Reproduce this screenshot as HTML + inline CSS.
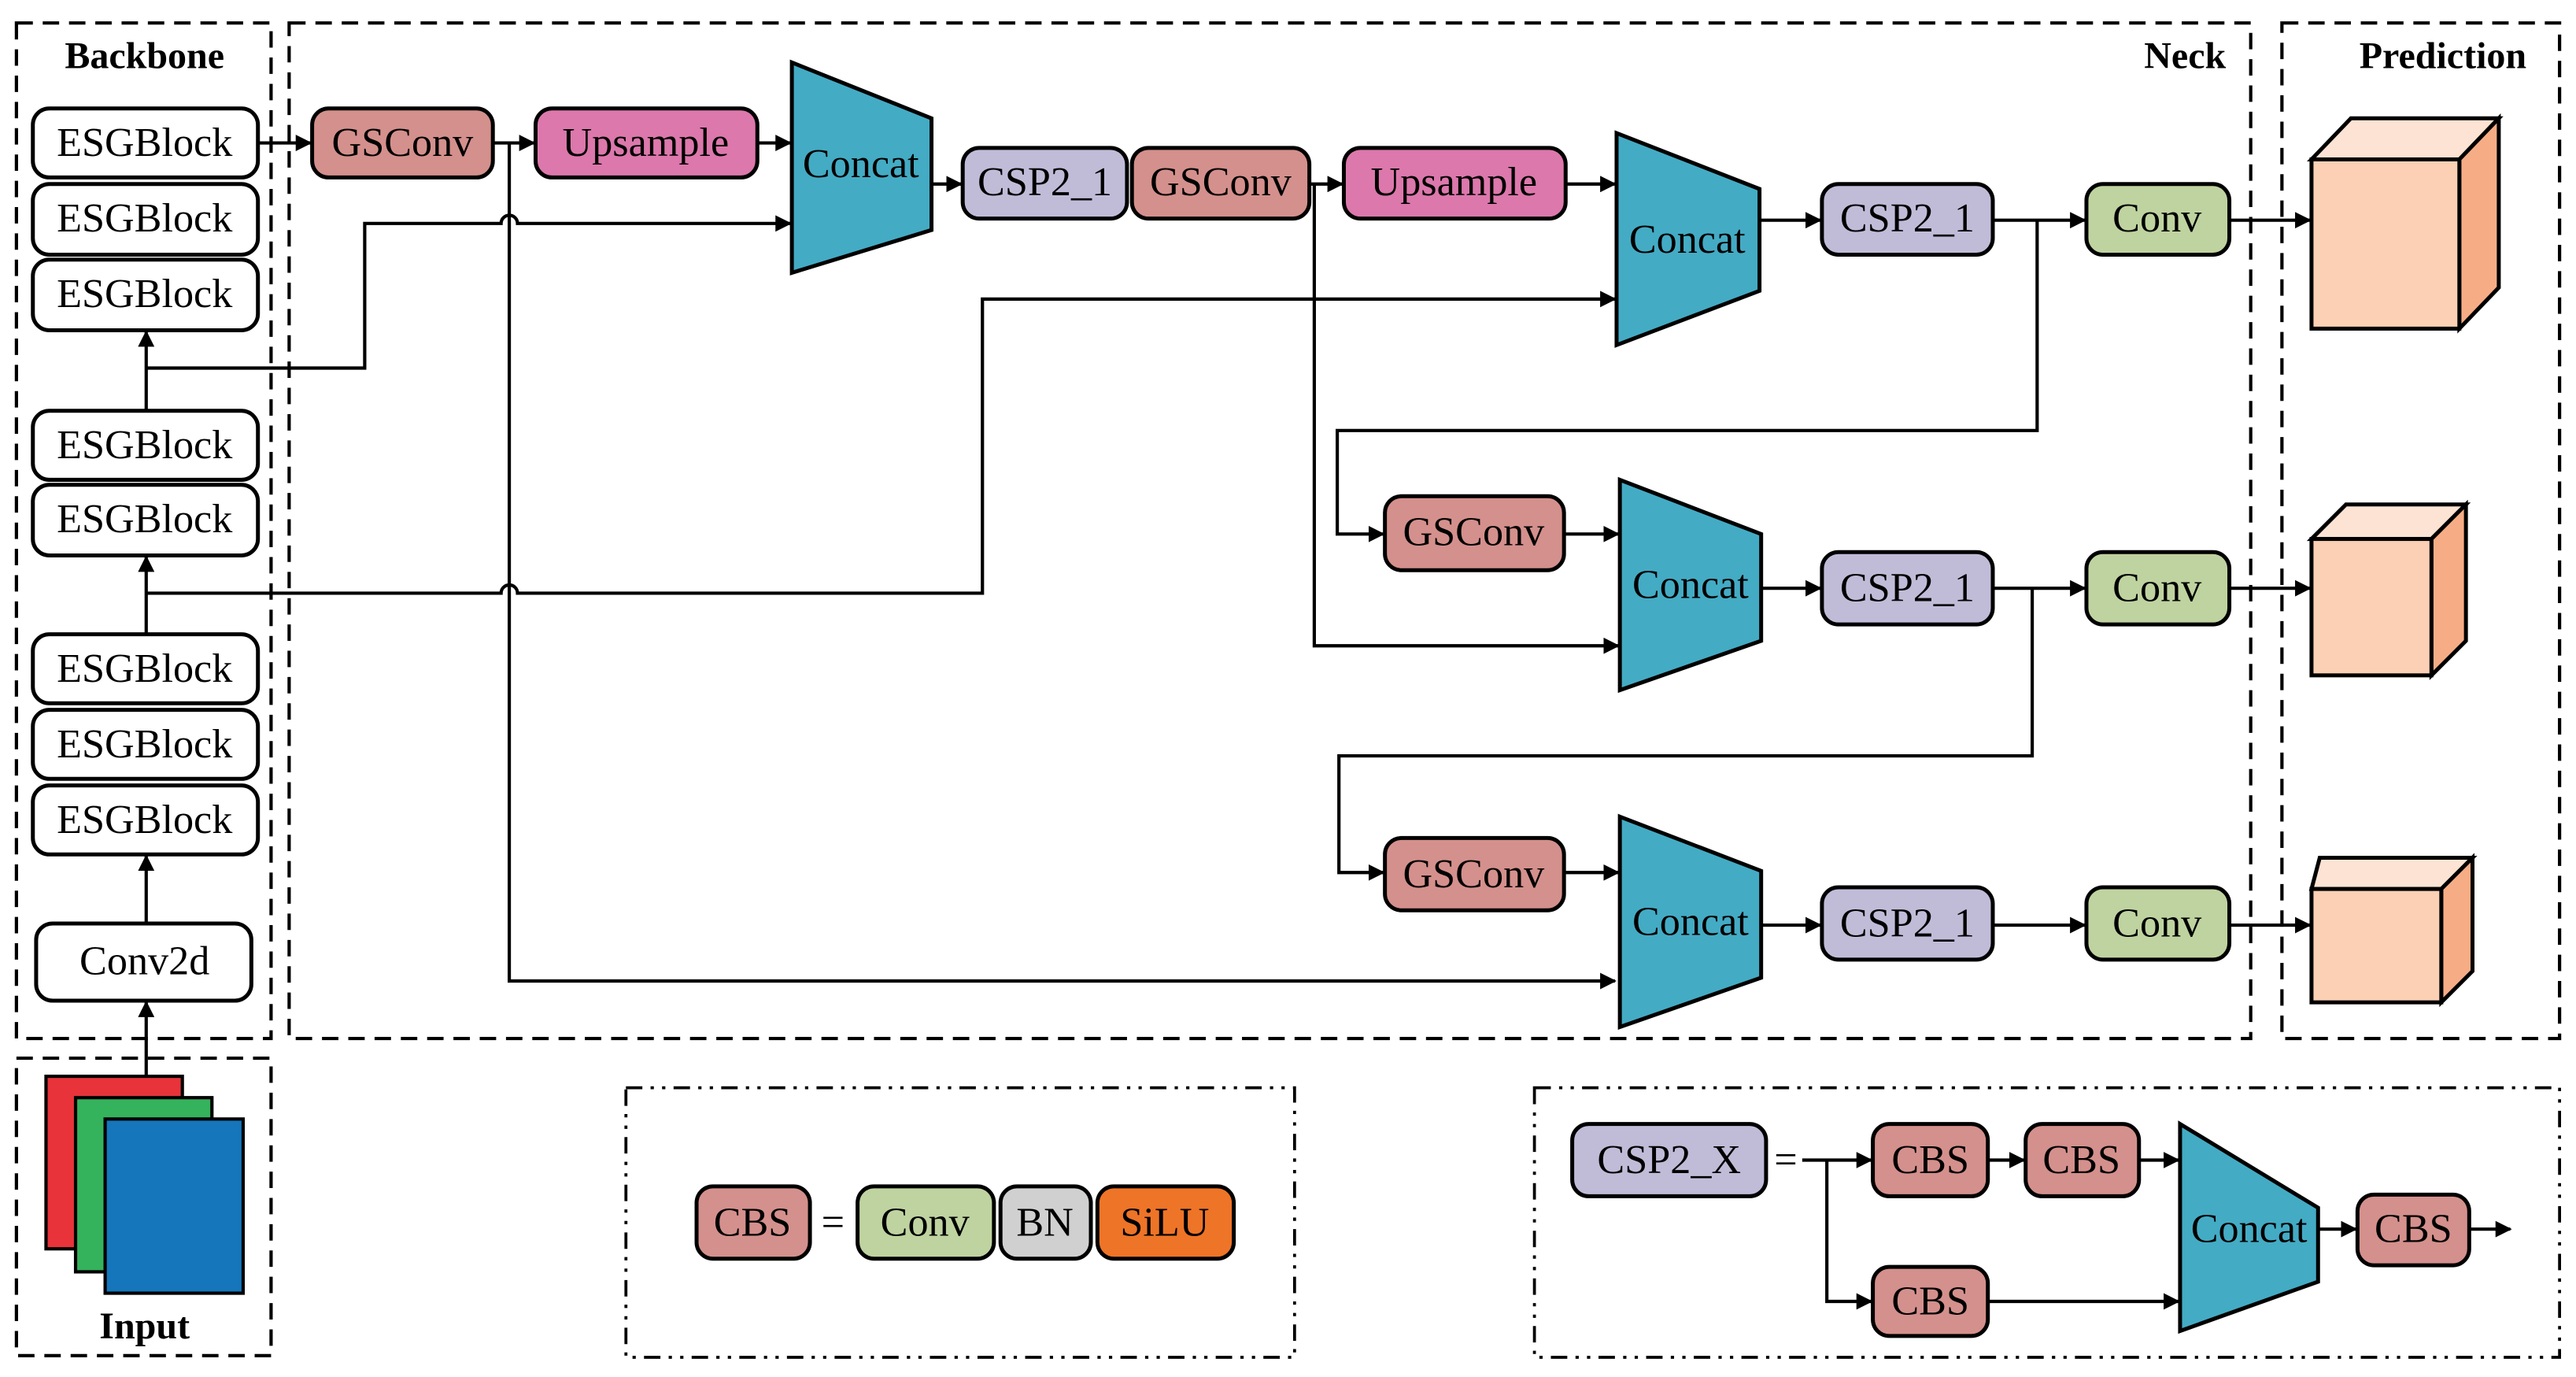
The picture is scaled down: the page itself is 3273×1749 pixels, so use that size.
<!DOCTYPE html>
<html><head><meta charset="utf-8"><style>
html,body{margin:0;padding:0;background:#fff;}
svg{display:block;}
text{font-family:"Liberation Serif",serif;font-size:25px;text-anchor:middle;dominant-baseline:central;fill:#000;}
.b{font-weight:bold;font-size:23px;}
.n{stroke:#000;stroke-width:2.4;}
.l{fill:none;stroke:#000;stroke-width:2;}
.dash{fill:none;stroke:#000;stroke-width:2;stroke-dasharray:10,6;}
.dd{fill:none;stroke:#000;stroke-width:1.8;stroke-dasharray:10,5,2,5,2,5;}
</style></head><body>
<svg width="3273" height="1749" viewBox="0 0 1568 838" preserveAspectRatio="none" xmlns="http://www.w3.org/2000/svg">
<defs><marker id="a" markerWidth="10" markerHeight="10" refX="9" refY="5" orient="auto" markerUnits="userSpaceOnUse"><path d="M0,0 L10,5 L0,10 z" fill="#000"/></marker></defs>

<rect class="dash" x="10" y="14" width="155" height="618"/>
<rect class="dash" x="176" y="14" width="1194" height="618"/>
<rect class="dash" x="1389" y="14" width="169" height="618"/>
<rect class="dash" x="10" y="644" width="155" height="181"/>
<rect class="dd" x="381" y="662" width="407" height="164"/>
<rect class="dd" x="934" y="662" width="624" height="164"/>
<text class="b" x="88" y="34">Backbone</text>
<text class="b" x="1330" y="34">Neck</text>
<text class="b" x="1487" y="34">Prediction</text>

<g fill="#fff">
<rect class="n" x="20" y="66" width="137" height="42" rx="10"/>
<rect class="n" x="20" y="112" width="137" height="43" rx="10"/>
<rect class="n" x="20" y="158" width="137" height="43" rx="10"/>
<rect class="n" x="20" y="250" width="137" height="42" rx="10"/>
<rect class="n" x="20" y="295" width="137" height="43" rx="10"/>
<rect class="n" x="20" y="386" width="137" height="42" rx="10"/>
<rect class="n" x="20" y="432" width="137" height="42" rx="10"/>
<rect class="n" x="20" y="478" width="137" height="42" rx="10"/>
<rect class="n" x="22" y="562" width="131" height="47" rx="10"/>
</g>
<text x="88" y="87">ESGBlock</text><text x="88" y="133">ESGBlock</text><text x="88" y="179">ESGBlock</text>
<text x="88" y="271">ESGBlock</text><text x="88" y="316">ESGBlock</text>
<text x="88" y="407">ESGBlock</text><text x="88" y="453">ESGBlock</text><text x="88" y="499">ESGBlock</text>
<text x="88" y="585">Conv2d</text>

<rect x="28" y="655" width="83" height="105" fill="#e8333a" stroke="#000" stroke-width="2"/>
<rect x="46" y="668" width="83" height="106" fill="#35b25c" stroke="#000" stroke-width="2"/>
<rect x="64" y="681" width="84" height="106" fill="#1576bc" stroke="#000" stroke-width="2"/>
<text class="b" x="88" y="807">Input</text>

<line class="l" x1="89" y1="655" x2="89" y2="610" marker-end="url(#a)"/>
<line class="l" x1="89" y1="562" x2="89" y2="521" marker-end="url(#a)"/>
<line class="l" x1="89" y1="386" x2="89" y2="339" marker-end="url(#a)"/>
<line class="l" x1="89" y1="250" x2="89" y2="202" marker-end="url(#a)"/>

<rect class="n" x="190" y="66" width="110" height="42" rx="10" fill="#d4908c"/><text x="245" y="87">GSConv</text>
<rect class="n" x="326" y="66" width="135" height="42" rx="10" fill="#dc78ac"/><text x="393" y="87">Upsample</text>
<polygon class="n" points="482,38 567,72 567,140 482,166" fill="#44abc4"/><text x="524" y="100">Concat</text>
<rect class="n" x="586" y="90" width="100" height="43" rx="10" fill="#c0bcd8"/><text x="636" y="111">CSP2_1</text>
<rect class="n" x="689" y="90" width="108" height="43" rx="10" fill="#d4908c"/><text x="743" y="111">GSConv</text>
<rect class="n" x="818" y="90" width="135" height="43" rx="10" fill="#dc78ac"/><text x="885" y="111">Upsample</text>
<polygon class="n" points="984,81 1071,115 1071,177 984,210" fill="#44abc4"/><text x="1027" y="146">Concat</text>
<rect class="n" x="1109" y="112" width="104" height="43" rx="10" fill="#c0bcd8"/><text x="1161" y="133">CSP2_1</text>
<rect class="n" x="1270" y="112" width="87" height="43" rx="10" fill="#bfd3a0"/><text x="1313" y="133">Conv</text>

<rect class="n" x="843" y="302" width="109" height="45" rx="10" fill="#d4908c"/><text x="897" y="324">GSConv</text>
<polygon class="n" points="986,292 1072,325 1072,390 986,420" fill="#44abc4"/><text x="1029" y="356">Concat</text>
<rect class="n" x="1109" y="336" width="104" height="44" rx="10" fill="#c0bcd8"/><text x="1161" y="358">CSP2_1</text>
<rect class="n" x="1270" y="336" width="87" height="44" rx="10" fill="#bfd3a0"/><text x="1313" y="358">Conv</text>

<rect class="n" x="843" y="510" width="109" height="44" rx="10" fill="#d4908c"/><text x="897" y="532">GSConv</text>
<polygon class="n" points="986,497 1072,530 1072,595 986,625" fill="#44abc4"/><text x="1029" y="561">Concat</text>
<rect class="n" x="1109" y="540" width="104" height="44" rx="10" fill="#c0bcd8"/><text x="1161" y="562">CSP2_1</text>
<rect class="n" x="1270" y="540" width="87" height="44" rx="10" fill="#bfd3a0"/><text x="1313" y="562">Conv</text>

<g stroke="#000" stroke-width="2.4">
<polygon points="1407,97 1431,72 1521,72 1497,97" fill="#fde3d3"/>
<polygon points="1497,97 1521,72 1521,175 1497,200" fill="#f6ad85"/>
<rect x="1407" y="97" width="90" height="103" fill="#fbd0b4"/>
<polygon points="1407,328 1428,307 1501,307 1480,328" fill="#fde3d3"/>
<polygon points="1480,328 1501,307 1501,390 1480,411" fill="#f6ad85"/>
<rect x="1407" y="328" width="73" height="83" fill="#fbd0b4"/>
<polygon points="1407,541 1412,522 1505,522 1486,541" fill="#fde3d3"/>
<polygon points="1486,541 1505,522 1505,591 1486,610" fill="#f6ad85"/>
<rect x="1407" y="541" width="79" height="69" fill="#fbd0b4"/>
</g>

<line class="l" x1="157" y1="87" x2="189" y2="87" marker-end="url(#a)"/>
<line class="l" x1="300" y1="87" x2="325" y2="87" marker-end="url(#a)"/>
<line class="l" x1="461" y1="87" x2="481" y2="87" marker-end="url(#a)"/>
<line class="l" x1="567" y1="112" x2="585" y2="112" marker-end="url(#a)"/>
<line class="l" x1="797" y1="112" x2="817" y2="112" marker-end="url(#a)"/>
<line class="l" x1="953" y1="112" x2="983" y2="112" marker-end="url(#a)"/>
<line class="l" x1="1071" y1="134" x2="1108" y2="134" marker-end="url(#a)"/>
<line class="l" x1="1213" y1="134" x2="1269" y2="134" marker-end="url(#a)"/>
<line class="l" x1="1357" y1="134" x2="1406" y2="134" marker-end="url(#a)"/>
<line class="l" x1="1072" y1="358" x2="1108" y2="358" marker-end="url(#a)"/>
<line class="l" x1="1213" y1="358" x2="1269" y2="358" marker-end="url(#a)"/>
<line class="l" x1="1357" y1="358" x2="1406" y2="358" marker-end="url(#a)"/>
<line class="l" x1="1072" y1="563" x2="1108" y2="563" marker-end="url(#a)"/>
<line class="l" x1="1213" y1="563" x2="1269" y2="563" marker-end="url(#a)"/>
<line class="l" x1="1357" y1="563" x2="1406" y2="563" marker-end="url(#a)"/>
<line class="l" x1="952" y1="325" x2="985" y2="325" marker-end="url(#a)"/>
<line class="l" x1="952" y1="531" x2="985" y2="531" marker-end="url(#a)"/>
<path class="l" d="M89,224 H222 V136 H305 A5,5 0 0 1 315,136 H481" marker-end="url(#a)"/>
<path class="l" d="M89,361 H305 A5,5 0 0 1 315,361 H598 V182 H983" marker-end="url(#a)"/>
<path class="l" d="M310,87 V597 H983" marker-end="url(#a)"/>
<path class="l" d="M800,112 V393 H985" marker-end="url(#a)"/>
<path class="l" d="M1240,134 V262 H814 V325 H842" marker-end="url(#a)"/>
<path class="l" d="M1237,358 V460 H815 V531 H842" marker-end="url(#a)"/>

<rect class="n" x="424" y="722" width="69" height="44" rx="10" fill="#d4908c"/><text x="458" y="744">CBS</text>
<text x="507" y="744">=</text>
<rect class="n" x="522" y="722" width="83" height="44" rx="10" fill="#bfd3a0"/><text x="563" y="744">Conv</text>
<rect class="n" x="609" y="722" width="55" height="44" rx="10" fill="#d0d0d0"/><text x="636" y="744">BN</text>
<rect class="n" x="668" y="722" width="83" height="44" rx="10" fill="#ee7427"/><text x="709" y="744">SiLU</text>

<rect class="n" x="957" y="684" width="118" height="44" rx="10" fill="#c0bcd8"/><text x="1016" y="706">CSP2_X</text>
<text x="1087" y="706">=</text>
<rect class="n" x="1140" y="684" width="70" height="44" rx="10" fill="#d4908c"/><text x="1175" y="706">CBS</text>
<rect class="n" x="1233" y="684" width="69" height="44" rx="10" fill="#d4908c"/><text x="1267" y="706">CBS</text>
<rect class="n" x="1140" y="771" width="70" height="42" rx="10" fill="#d4908c"/><text x="1175" y="792">CBS</text>
<polygon class="n" points="1327,684 1411,735 1411,780 1327,810" fill="#44abc4"/><text x="1369" y="748">Concat</text>
<rect class="n" x="1435" y="727" width="68" height="43" rx="10" fill="#d4908c"/><text x="1469" y="748">CBS</text>
<path class="l" d="M1097,706 H1139" marker-end="url(#a)"/>
<path class="l" d="M1112,706 V792 H1139" marker-end="url(#a)"/>
<line class="l" x1="1210" y1="706" x2="1232" y2="706" marker-end="url(#a)"/>
<line class="l" x1="1302" y1="706" x2="1326" y2="706" marker-end="url(#a)"/>
<line class="l" x1="1210" y1="792" x2="1326" y2="792" marker-end="url(#a)"/>
<line class="l" x1="1411" y1="748" x2="1434" y2="748" marker-end="url(#a)"/>
<line class="l" x1="1503" y1="748" x2="1528" y2="748" marker-end="url(#a)"/>
</svg>
</body></html>
